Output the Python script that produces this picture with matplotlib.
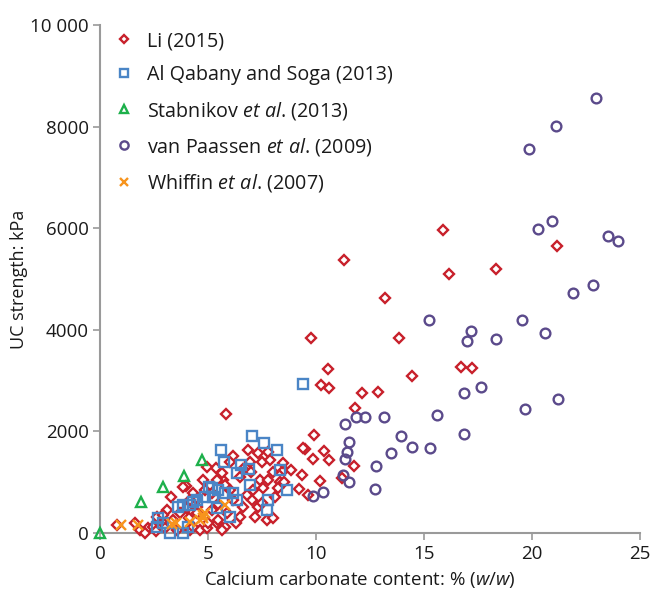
import matplotlib
matplotlib.use("Agg")
import matplotlib.pyplot as plt
from matplotlib.ticker import FixedLocator, FuncFormatter

plt.rcParams['font.family'] = ['Open Sans', 'DejaVu Sans']
plt.rcParams['mathtext.fontset'] = 'custom'
plt.rcParams['mathtext.rm'] = 'Open Sans'
plt.rcParams['mathtext.it'] = 'Open Sans:italic'

# ---- data ----
li_x = [11.3, 15.9, 16.15, 18.35, 21.15, 13.2, 9.75, 13.85, 10.55, 10.25, 10.6, 14.45, 16.7, 17.2,
        12.15, 12.85, 11.8, 9.9, 9.5, 10.35, 9.85, 10.6, 11.75, 9.35, 10.2, 11.2, 9.2, 9.65, 8.5, 8.85,
        9.4, 5.85,
        5.37, 6.17, 6.87, 7.33, 7.79, 6.94, 7.49, 7.87, 8.49, 4.94, 5.71, 6.48, 7.41, 7.79, 8.33,
        7.1, 7.56, 8.26, 7.02, 7.33, 7.18, 7.72, 6.48, 5.79, 5.4, 6.63, 6.17, 5.17, 5.48,
        4.0, 3.3, 0.77, 1.62, 3.09, 2.62, 1.85, 2.24, 2.08, 2.45, 2.93, 3.7, 4.17, 4.78, 4.32, 4.48,
        3.55, 4.17, 4.63, 3.86, 4.86, 5.4, 5.63, 4.01, 4.48, 2.93, 4.32, 4.94, 5.48, 5.63,
        6.0, 6.6, 7.0, 8.0, 8.1, 8.5, 6.0, 6.8, 5.9, 6.3, 7.5, 8.0, 5.2, 5.0, 3.0, 2.6, 3.4, 4.1, 5.8]
li_y = [5370, 5960, 5100, 5200, 5650, 4630, 3830, 3840, 3220, 2910, 2850, 3100, 3270, 3240,
        2760, 2770, 2470, 1930, 1660, 1610, 1460, 1440, 1320, 1140, 1030, 1080, 860, 750, 1240, 1240,
        1670, 2350,
        1270, 1520, 1630, 1570, 1600, 1400, 1400, 1440, 1370, 1300, 1040, 1110, 1040, 1040, 1010,
        850, 880, 880, 650, 520, 320, 260, 320, 120, 190, 520, 650, 780, 580,
        930, 715, 150, 190, 450, 320, 60, 90, 0, 120, 190, 390, 650, 1040, 780, 520,
        60, 60, 60, 910, 850, 1040, 1180, 490, 390, 350, 120, 90, 260, 60,
        1400, 1250, 1200, 1200, 700, 1000, 850, 750, 400, 200, 600, 300, 450, 200, 100, 30, 250, 300, 950]

aq_x = [9.4, 7.02, 7.6, 8.2, 5.62, 5.72, 6.52, 6.33, 6.91, 8.33, 6.94, 8.67, 7.79, 7.75, 5.05,
        5.48, 5.79, 6.17, 6.33, 6.02, 4.86, 4.17, 3.63, 2.7, 2.62, 3.24, 3.86, 4.48, 4.32, 5.25,
        5.17, 2.93, 4.09, 5.4, 3.86]
aq_y = [2930, 1900, 1780, 1630, 1625, 1390, 1335, 1180, 1250, 1240, 945, 840, 655, 455, 900,
        840, 793, 793, 650, 320, 715, 551, 518, 290, 124, 0, 0, 650, 616, 715,
        880, 190, 124, 486, 551]

st_x = [0.0, 1.88, 2.9, 3.9, 4.72]
st_y = [0, 616, 900, 1120, 1440]

vp_x = [22.96, 21.11, 19.86, 20.93, 20.28, 23.5, 23.97, 21.9, 22.84, 15.23, 17.16, 16.97, 18.35,
        19.55, 20.6, 16.85, 17.62, 19.68, 21.2, 15.6, 16.84, 11.34, 11.84, 12.27, 13.15, 11.54,
        11.42, 11.34, 13.95, 13.47, 14.43, 15.29, 12.79, 11.27, 11.54, 12.72, 10.31, 9.88]
vp_y = [8570, 8006, 7565, 6136, 5984, 5840, 5750, 4730, 4876, 4193, 3982, 3785, 3819,
        4193, 3931, 2756, 2880, 2435, 2644, 2323, 1942, 2139, 2290, 2290, 2290, 1785,
        1594, 1457, 1903, 1581, 1693, 1667, 1312, 1135, 998, 866, 813, 728]

wh_x = [0.97, 1.77, 3.35, 3.5, 4.17, 4.63, 4.78, 4.86, 4.75, 5.79]
wh_y = [150, 160, 185, 200, 222, 256, 354, 388, 300, 551]

x_ticks = [0, 5, 10, 15, 20, 25]
y_ticks = [0, 2000, 4000, 6000, 8000, 10000]

# ---- plot ----
fig = plt.figure(figsize=(6.52, 5.94), dpi=100)
ax = fig.add_axes([0.1534, 0.1027, 0.8282, 0.8552])

red = '#C8202B'
blue = '#4A85C6'
green = '#1DB04B'
purple = '#5B4A8B'
orange = '#F7941D'

ax.plot(li_x, li_y, ls='none', marker='D', ms=5.2, mew=1.7, mfc='white', mec=red,
        label='Li (2015)', clip_on=False, zorder=3)
ax.plot(aq_x, aq_y, ls='none', marker='s', ms=6.5, mew=1.7, mfc='none', mec=blue,
        label='Al Qabany and Soga (2013)', clip_on=False, zorder=4)
ax.plot(st_x, st_y, ls='none', marker='^', ms=7.0, mew=1.7, mfc='none', mec=green,
        label=r'Stabnikov $\mathit{et\ al}$. (2013)', clip_on=False, zorder=5)
ax.plot(vp_x, vp_y, ls='none', marker='o', ms=7.0, mew=1.7, mfc='none', mec=purple,
        label=r'van Paassen $\mathit{et\ al}$. (2009)', clip_on=False, zorder=4)
ax.plot(wh_x, wh_y, ls='none', marker='x', ms=7.2, mew=1.7, mec=orange,
        label=r'Whiffin $\mathit{et\ al}$. (2007)', clip_on=False, zorder=6)

ax.set_xlim(0, 25)
ax.set_ylim(0, 10000)
ax.xaxis.set_major_locator(FixedLocator(x_ticks))
ax.yaxis.set_major_locator(FixedLocator(y_ticks))
ax.yaxis.set_major_formatter(FuncFormatter(lambda v, p: '10 000' if v >= 10000 else f'{int(v)}'))

for s in ['top', 'right']:
    ax.spines[s].set_visible(False)
for s in ['left', 'bottom']:
    ax.spines[s].set_color('#9a9a9a')
    ax.spines[s].set_linewidth(1.5)
ax.tick_params(direction='out', length=5, width=1.2, color='#9a9a9a', labelsize=13.5, labelcolor='#1a1a1a')
ax.tick_params(axis='x', pad=4)
ax.tick_params(axis='y', pad=3)

ax.set_xlabel(r'Calcium carbonate content: % ($\mathit{w/w}$)', fontsize=13.5, color='#1a1a1a', labelpad=4)
ax.xaxis.label.set_x(0.481)
ax.set_ylabel('UC strength: kPa', fontsize=13, color='#1a1a1a', labelpad=1.5)

leg = ax.legend(loc='upper left', bbox_to_anchor=(0.0, 1.015), frameon=False, fontsize=14.2,
                handlelength=1.0, handletextpad=0.7, labelspacing=0.72, borderaxespad=0.3,
                numpoints=1, markerscale=0.85)
for t in leg.get_texts():
    t.set_color('#1a1a1a')

fig.savefig('out.png', dpi=100)
